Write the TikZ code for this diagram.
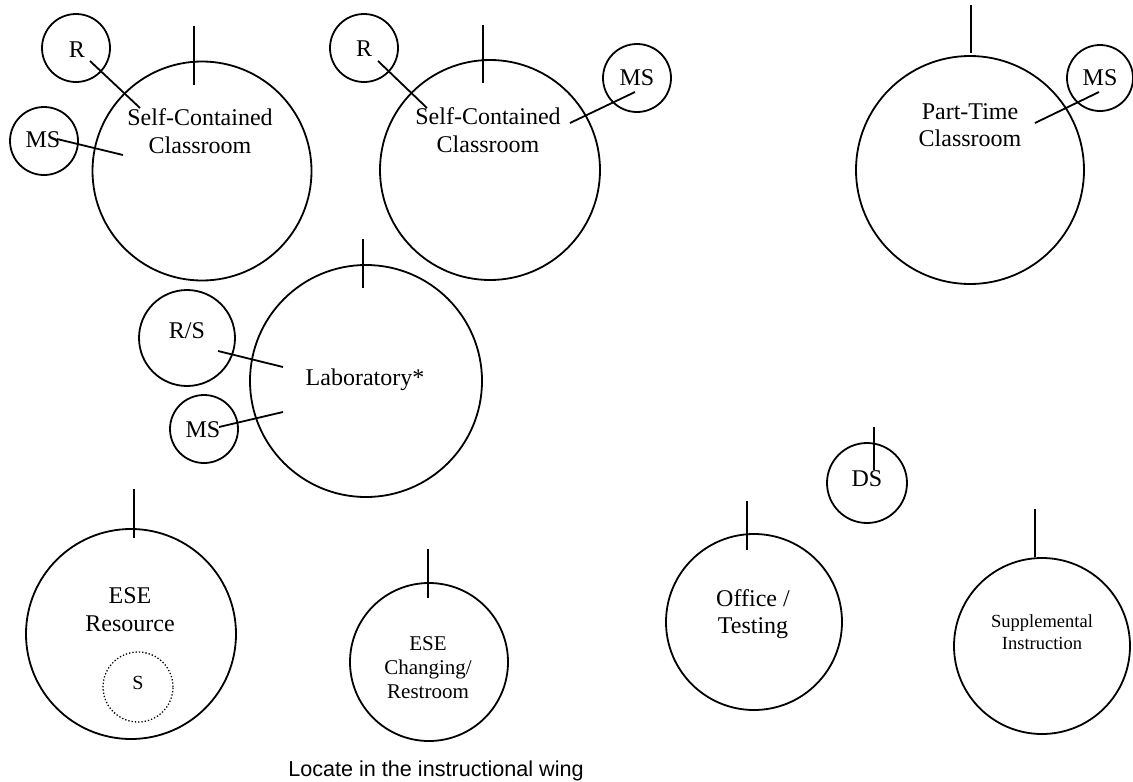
\documentclass[tikz,border=0pt]{standalone}
\usepackage{fontspec}
\setmainfont{Liberation Serif}
\newfontfamily\arialfont{Liberation Sans}
\begin{document}
\begin{tikzpicture}[x=1pt,y=-1pt,
  room/.style={draw,circle,line width=1.8pt,inner sep=0pt,minimum size=#1},
  link/.style={line width=1.8pt},
  lbl/.style={inner sep=0pt,align=center,font=\fontsize{24}{28}\selectfont},
  dotcirc/.style={draw,circle,inner sep=0pt,minimum size=#1,line width=1.3pt,dash pattern=on 1.3pt off 2pt}]
\useasboundingbox[fill=white] (0,0) rectangle (1133,782);

% circles
\node[room=219pt] (sc1) at (202,171) {};
\node[room=68pt] (r1) at (76,48) {};
\node[room=68pt] (ms1) at (44,141) {};
\node[room=220pt] (sc2) at (490,170) {};
\node[room=68pt] (r2) at (364,48) {};
\node[room=68pt] (ms2) at (637,78) {};
\node[room=228pt] (pt) at (970,170) {};
\node[room=66pt] (ms3) at (1100,78) {};
\node[room=232pt] (lab) at (366,381) {};
\node[room=96pt] (rs) at (187,338) {};
\node[room=68pt] (ms4) at (204,429) {};
\node[room=80pt] (ds) at (867,483) {};
\node[room=210pt] (eser) at (131,634) {};
\node[dotcirc=70pt] (s) at (138,687) {};
\node[room=158pt] (esec) at (429,662) {};
\node[room=176pt] (off) at (754,622) {};
\node[room=176pt] (sup) at (1042,646) {};

% labels
\node[lbl] (tsc1) at (200,131) {Self-Contained\\Classroom};
\node[lbl] (tsc2) at (488,130) {Self-Contained\\Classroom};
\node[lbl,font=\fontsize{24}{27}\selectfont] (tpt) at (970,125) {Part-Time\\Classroom};
\node[lbl] (tr1) at (77,50) {R};
\node[lbl] (tr2) at (364,49) {R};
\node[lbl] (tms1) at (43,140) {MS};
\node[lbl] (tms2) at (637,78) {MS};
\node[lbl] (tms3) at (1100,78) {MS};
\node[lbl] (tlab) at (365,380) {Laboratory*};
\node[lbl] (trs) at (187,331) {R/S};
\node[lbl] (tms4) at (203,430) {MS};
\node[lbl] (tds) at (867,479) {DS};
\node[lbl,font=\fontsize{20}{24}\selectfont] (ts) at (138,683) {S};
\node[lbl] (teser) at (130,610) {ESE\\Resource};
\node[lbl,font=\fontsize{21}{24}\selectfont] (tesec) at (428,668) {ESE\\Changing/\\Restroom};
\node[lbl,font=\fontsize{24}{27}\selectfont] (toff) at (753,614) {Office /\\Testing};
\node[lbl,font=\fontsize{18.5}{21.5}\selectfont] (tsup) at (1042,632) {Supplemental\\Instruction};
\node[inner sep=0pt,anchor=base,font=\arialfont\fontsize{21.6}{26}\selectfont] (note) at (436,776) {Locate in the instructional wing};

% door ticks
\coordinate (k1a) at (194,26);  \coordinate (k1b) at (194,85);
\coordinate (k2a) at (483,25);  \coordinate (k2b) at (483,83);
\coordinate (k3a) at (971,5);   \coordinate (k3b) at (971,53);
\coordinate (k4a) at (363,239); \coordinate (k4b) at (363,288);
\coordinate (k5a) at (874,427); \coordinate (k5b) at (874,470);
\coordinate (k6a) at (134,489); \coordinate (k6b) at (134,538);
\coordinate (k7a) at (428,549); \coordinate (k7b) at (428,598);
\coordinate (k8a) at (747,501); \coordinate (k8b) at (747,550);
\coordinate (k9a) at (1035,509); \coordinate (k9b) at (1035,557);
\foreach \i in {1,...,9} \draw[link] (k\i a) -- (k\i b);

% connectors
\coordinate (c1a) at (90,61);   \coordinate (c1b) at (140,108);
\coordinate (c2a) at (57,139);  \coordinate (c2b) at (123,155);
\coordinate (c3a) at (378,61);  \coordinate (c3b) at (427,108);
\coordinate (c4a) at (635,92);  \coordinate (c4b) at (570,123);
\coordinate (c5a) at (1099,92); \coordinate (c5b) at (1035,123);
\coordinate (c6a) at (218,351); \coordinate (c6b) at (283,367);
\coordinate (c7a) at (219,427); \coordinate (c7b) at (283,412);
\foreach \i in {1,...,7} \draw[link] (c\i a) -- (c\i b);
\end{tikzpicture}
\end{document}
